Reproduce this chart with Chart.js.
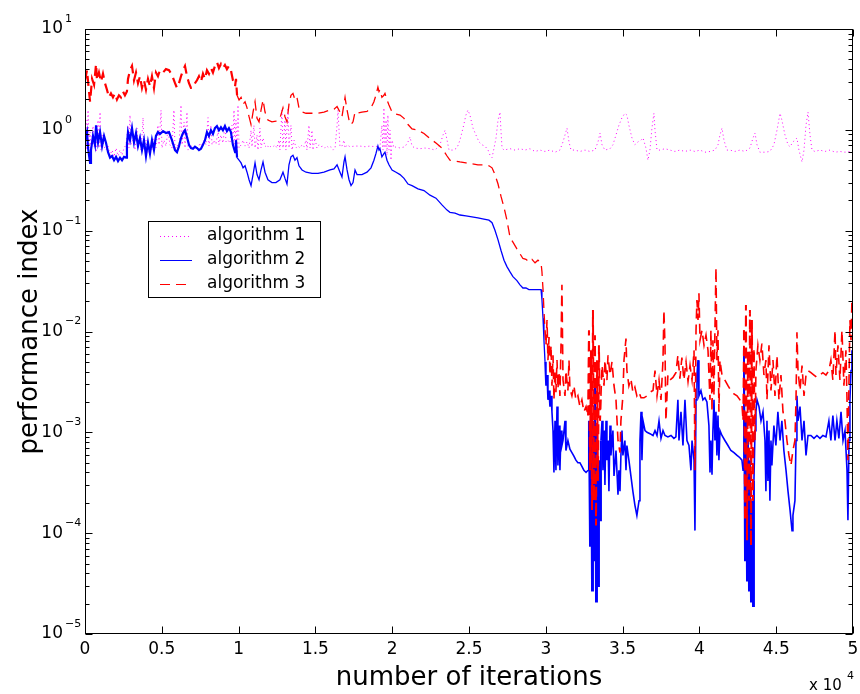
<!DOCTYPE html>
<html>
<head>
<meta charset="utf-8">
<script src="https://cdn.jsdelivr.net/npm/chart.js@4"></script>
<style>
  body { margin: 0; background: #fff; }
  #wrap { width: 860px; height: 694px; }
</style>
</head>
<body>
<div id="wrap"><canvas id="perfChart" width="860" height="694"></canvas></div>
<script>
// tick values / labels
const xTickValues = [0, 5000, 10000, 15000, 20000, 25000, 30000, 35000, 40000, 45000, 50000];
const xTickLabels = ['0', '0.5', '1', '1.5', '2', '2.5', '3', '3.5', '4', '4.5', '5'];
const yTickExponents = [-5, -4, -3, -2, -1, 0, 1];
const seriesNames = ['algorithm 1', 'algorithm 2', 'algorithm 3'];

// algorithm 1 (magenta, dotted)
const alg1Iter = [
  0,70,130,200,260,330,390,520,590,650,
  720,850,910,980,1040,1110,1240,1370,1500,1630,
  1760,1890,2020,2150,2280,2410,2540,2670,2800,2860,
  2930,2990,3120,3250,3390,3450,3580,3650,3780,3840,
  3970,4100,4230,4360,4490,4620,4750,4820,4950,5010,
  5140,5270,5400,5530,5660,5790,5860,5990,6120,6250,
  6320,6450,6510,6640,6710,6840,6970,7100,7230,7360,
  7490,7620,7750,7880,8010,8070,8200,8270,8400,8530,
  8660,8720,8850,8980,9110,9180,9310,9440,9570,9630,
  9700,9770,9830,9900,9960,10030,10160,10290,10420,10550,
  10680,10810,10870,11000,11070,11200,11260,11390,11460,11590,
  11720,11850,11980,12110,12240,12370,12500,12630,12690,12820,
  12890,13020,13080,13220,13280,13410,13480,13610,13740,13870,
  14000,14130,14260,14390,14450,14580,14650,14780,14840,14970,
  15100,15230,15360,15490,15620,15750,15880,16010,16150,16280,
  16410,16470,16540,16600,16730,16860,16930,17060,17250,17580,
  17900,18230,18550,18880,19070,19200,19330,19400,19460,19530,
  19600,19660,19720,19790,19860,19920,19990,20120,20250,20510,
  20830,21030,21160,21290,21480,21810,22130,22460,22790,23110,
  23310,23440,23570,23700,23960,24220,24410,24610,24800,24930,
  25060,25260,25450,25650,25850,26040,26240,26370,26500,26630,
  26760,26890,27020,27080,27150,27280,27670,27990,28320,28640,
  28970,29300,29620,29950,30270,30600,30920,31120,31250,31380,
  31510,31640,31900,32220,32550,32880,33200,33400,33530,33660,
  33850,34180,34370,34570,34760,34960,35150,35280,35410,35610,
  35800,36000,36200,36330,36520,36650,36780,36910,37040,37110,
  37240,37430,37760,38080,38410,38730,39060,39390,39710,40040,
  40360,40690,41010,41210,41340,41470,41600,41790,41990,42310,
  42640,42970,43290,43490,43620,43750,43940,44270,44590,44850,
  45050,45250,45370,45570,45770,45900,46090,46220,46350,46480,
  46680,46810,46940,47070,47200,47330,47520,47850,48170,48500,
  48830,49150,49480,49800,50000
];
const alg1Perf = [
  0.71,1.25,0.63,1.57,0.66,0.95,0.60,1.09,0.68,0.79,
  0.60,1.25,0.66,1.50,0.63,0.89,0.68,0.63,0.69,0.56,
  0.63,0.54,0.66,0.55,0.63,0.56,0.66,0.71,1.11,0.66,
  1.40,0.71,0.79,0.63,1.04,0.66,0.89,0.63,1.32,0.63,
  0.79,0.60,0.71,0.63,0.83,0.66,1.11,0.71,1.57,0.66,
  0.79,0.69,0.99,0.71,0.66,1.57,0.63,0.71,0.66,1.76,
  0.71,1.19,0.66,1.50,0.63,0.71,0.68,0.66,0.69,0.66,
  0.74,0.69,0.79,0.71,1.32,0.69,1.11,0.71,0.79,0.72,
  0.99,0.71,0.89,0.74,1.11,0.76,0.79,0.74,1.11,0.71,
  1.57,0.63,1.25,0.56,1.76,0.66,0.71,0.79,0.69,0.76,
  0.66,0.99,0.68,1.11,0.66,0.89,0.63,1.04,0.66,0.83,
  0.68,0.71,0.66,0.69,0.68,0.71,0.66,0.79,0.63,1.57,
  0.66,1.25,0.63,1.65,0.66,1.11,0.63,0.79,0.66,0.69,
  0.66,0.71,0.68,0.79,0.63,1.11,0.66,0.99,0.63,0.83,
  0.66,0.71,0.68,0.69,0.66,0.69,0.66,0.68,0.63,0.66,
  1.11,1.57,0.99,0.68,0.69,0.79,0.66,0.71,0.68,0.69,
  0.69,0.68,0.69,0.68,0.69,0.66,1.11,0.63,1.65,0.66,
  1.25,0.56,1.40,0.63,0.99,0.50,0.79,0.66,0.68,0.66,
  0.68,0.76,0.85,0.69,0.66,0.65,0.66,0.65,0.63,0.71,
  0.89,0.99,0.79,0.63,0.63,0.66,0.79,1.04,1.40,1.57,
  1.40,1.04,0.89,0.76,0.71,0.69,0.63,0.56,0.53,0.66,
  0.83,1.25,1.50,0.99,0.66,0.63,0.65,0.63,0.65,0.63,
  0.65,0.61,0.63,0.61,0.63,0.60,0.63,0.76,0.89,1.04,
  0.76,0.63,0.63,0.61,0.63,0.61,0.63,0.76,0.93,0.71,
  0.63,0.65,0.71,0.89,1.11,1.32,1.46,1.40,1.11,0.83,
  0.71,0.76,0.79,0.83,0.66,0.50,0.63,1.04,1.46,0.99,
  0.63,0.63,0.65,0.63,0.61,0.63,0.61,0.63,0.61,0.63,
  0.60,0.61,0.63,0.71,0.89,1.04,0.79,0.63,0.63,0.61,
  0.63,0.61,0.66,0.83,0.93,0.71,0.60,0.60,0.61,0.71,
  0.99,1.46,1.25,0.89,0.71,0.68,0.76,0.79,0.83,0.63,
  0.48,0.63,1.11,1.50,0.89,0.63,0.61,0.63,0.61,0.63,
  0.60,0.61,0.60,0.61,0.61
];

// algorithm 2 (blue, solid)
const alg2Iter = [
  0,130,200,330,390,520,650,720,850,980,
  1110,1240,1370,1500,1630,1760,1890,2020,2150,2280,
  2410,2540,2670,2730,2800,2930,3060,3190,3320,3450,
  3580,3710,3840,3970,4100,4230,4360,4490,4620,4750,
  4880,5080,5270,5470,5660,5860,5990,6120,6250,6380,
  6510,6640,6770,6900,7030,7160,7290,7420,7550,7680,
  7810,7940,8070,8200,8330,8460,8590,8720,8850,8980,
  9110,9240,9370,9500,9630,9770,9830,9900,10030,10160,
  10290,10420,10550,10680,10810,10940,11070,11200,11330,11460,
  11590,11720,11910,12170,12430,12690,12890,13020,13150,13280,
  13410,13540,13670,13800,13930,14130,14390,14780,15170,15560,
  15950,16210,16410,16600,16730,16860,16930,17060,17190,17320,
  17450,17580,17710,18030,18360,18620,18810,18940,19070,19140,
  19200,19330,19460,19530,19660,19790,19990,20250,20510,20770,
  21030,21290,21680,22070,22460,22850,23240,23570,23760,24090,
  24410,24800,25190,25580,25970,26300,26500,26690,26890,27080,
  27280,27470,27670,27860,28120,28320,28510,28710,28900,29100,
  29300,29490,29690,29750,29820,29880,29950,30010,30080,30140,
  30210,30270,30340,30400,30470,30530,30600,30660,30730,30790,
  30860,30920,30990,31050,31120,31250,31310,31440,31570,31700,
  31830,31960,32090,32220,32350,32480,32620,32750,32810,32880,
  32940,33010,33070,33140,33200,33270,33330,33400,33460,33530,
  33590,33660,33720,33790,33850,33920,33980,34050,34110,34180,
  34240,34370,34440,34570,34700,34760,34830,34890,34960,35020,
  35150,35220,35280,35410,35540,35670,35800,35930,36070,36130,
  36200,36260,36330,36460,36590,36780,36980,37110,37240,37370,
  37500,37630,37760,37950,38150,38340,38470,38600,38670,38800,
  38930,39060,39190,39320,39450,39520,39650,39710,39780,39840,
  39910,39970,40100,40230,40360,40490,40620,40690,40750,40820,
  40880,40950,41010,41080,41140,41210,41270,41340,41470,41660,
  41860,42050,42250,42450,42640,42770,42840,42900,42970,43030,
  43100,43160,43230,43290,43360,43420,43490,43550,43620,43680,
  43750,43880,44010,44140,44270,44330,44400,44460,44530,44590,
  44660,44720,44850,44980,45110,45250,45370,45500,45640,45770,
  45900,46030,46090,46220,46290,46350,46420,46550,46680,46810,
  46940,47070,47260,47460,47650,47850,48040,48240,48430,48560,
  48690,48830,48950,49080,49220,49350,49480,49610,49670,49740,
  49800,49870,49930,50000
];
const alg2Perf = [
  0.79,0.95,0.66,0.47,0.63,0.87,0.71,1.11,0.75,0.95,
  0.69,0.87,0.74,0.6,0.53,0.55,0.50,0.54,0.49,0.53,
  0.50,0.54,0.53,0.71,0.95,0.79,1.04,0.75,0.93,0.69,
  0.83,0.63,0.79,0.55,0.75,0.58,0.79,0.63,0.87,0.95,
  0.91,0.97,0.93,0.95,0.79,0.63,0.6,0.69,0.83,0.93,
  0.99,0.85,0.71,0.66,0.65,0.68,0.66,0.63,0.65,0.71,
  0.79,0.95,0.87,0.99,0.91,1.04,1.09,0.99,1.06,0.99,
  1.09,0.97,1.04,0.95,0.71,0.6,0.79,0.53,0.50,0.47,
  0.42,0.44,0.38,0.32,0.28,0.36,0.47,0.36,0.32,0.40,
  0.48,0.38,0.32,0.30,0.30,0.32,0.38,0.33,0.29,0.45,
  0.54,0.56,0.50,0.53,0.44,0.40,0.38,0.37,0.37,0.38,
  0.40,0.41,0.45,0.38,0.34,0.48,0.54,0.40,0.32,0.28,
  0.30,0.40,0.36,0.36,0.38,0.42,0.50,0.58,0.69,0.63,
  0.65,0.54,0.58,0.6,0.50,0.45,0.40,0.38,0.36,0.33,
  0.29,0.28,0.26,0.25,0.225,0.21,0.18,0.16,0.152,0.149,
  0.143,0.14,0.137,0.134,0.13,0.127,0.12,0.101,0.081,0.064,
  0.051,0.044,0.039,0.035,0.032,0.029,0.027,0.027,0.026,0.026,
  0.026,0.026,0.026,0.0205,0.0135,0.0082,0.005,0.0029,0.0037,0.0021,
  0.0026,0.0018,0.0023,0.0016,0.00104,0.0004,0.0013,0.00042,0.0018,0.00047,
  0.00117,0.00042,0.00104,0.00074,0.00083,0.0013,0.00066,0.00083,0.00068,0.00063,
  0.00058,0.00053,0.0005,0.0005,0.00046,0.00042,0.0004,0.00042,0.0013,0.000075,
  0.0021,0.000027,0.0013,0.000054,0.0033,0.000021,0.00104,0.00003,0.00053,0.000134,
  0.00083,0.0013,0.00042,0.00104,0.0003,0.0013,0.00053,0.00083,0.00026,0.00117,
  0.00059,0.00104,0.00037,0.00066,0.00024,0.00042,0.00026,0.00059,0.00104,0.00059,
  0.00083,0.00042,0.00074,0.00053,0.00037,0.00026,0.00019,0.00015,0.00021,0.00083,
  0.0016,0.00053,0.0013,0.00104,0.001,0.00097,0.00093,0.00104,0.00093,0.0013,
  0.00087,0.00104,0.00093,0.0009,0.00093,0.00087,0.0009,0.0021,0.00083,0.0016,
  0.00074,0.0021,0.00083,0.00074,0.00042,0.00083,0.00053,0.000106,0.0021,0.0037,
  0.0052,0.0023,0.0026,0.0021,0.0022,0.002,0.00117,0.0004,0.00083,0.00038,
  0.00104,0.0021,0.00083,0.0016,0.00059,0.00147,0.00053,0.00104,0.00093,0.00083,
  0.00074,0.00066,0.00063,0.00059,0.00056,0.00053,0.00042,0.0065,0.000054,0.0013,
  0.000034,0.00083,0.000027,0.00053,0.000021,0.00021,0.000019,0.00033,0.00104,0.0016,
  0.0021,0.0018,0.0013,0.0016,0.00083,0.00026,0.0013,0.00033,0.00104,0.00021,
  0.00083,0.00047,0.00117,0.00074,0.0016,0.00083,0.0013,0.00066,0.00042,0.00026,
  0.00017,0.000106,0.00015,0.00021,0.00083,0.0023,0.0013,0.0018,0.00083,0.0013,
  0.00059,0.00093,0.00093,0.00087,0.00093,0.00087,0.00093,0.0009,0.0013,0.00083,
  0.00147,0.00083,0.0013,0.00087,0.0016,0.00083,0.00104,0.00042,0.000134,0.00083,
  0.0021,0.0041,0.0065,0.0052
];

// algorithm 3 (red, dashed)
const alg3Iter = [
  0,130,260,330,460,590,720,780,910,1040,
  1170,1300,1430,1560,1690,1820,1950,2080,2210,2340,
  2470,2600,2730,2800,2930,3060,3190,3320,3450,3580,
  3710,3840,3970,4100,4230,4360,4490,4620,4750,4880,
  5080,5270,5470,5660,5860,5990,6120,6250,6380,6510,
  6640,6770,6900,7030,7160,7290,7420,7550,7680,7810,
  7940,8070,8200,8330,8460,8590,8720,8850,8980,9110,
  9240,9370,9500,9630,9770,9830,9900,10030,10160,10290,
  10420,10550,10680,10810,10940,11070,11200,11330,11460,11590,
  11720,11910,12170,12430,12690,12890,13020,13150,13280,13410,
  13540,13670,13800,13930,14130,14390,14780,15170,15560,15950,
  16210,16410,16600,16730,16860,16930,17060,17190,17320,17450,
  17580,17710,18030,18360,18620,18810,18940,19070,19140,19200,
  19330,19460,19530,19660,19790,19990,20250,20510,20770,21030,
  21290,21680,22070,22460,22850,23240,23570,23760,24090,24410,
  24800,25190,25580,25970,26300,26500,26690,26890,27080,27280,
  27470,27670,27860,28120,28320,28510,28710,28900,29100,29300,
  29490,29690,29750,29820,29880,29950,30010,30080,30140,30210,
  30270,30340,30400,30470,30530,30600,30660,30730,30790,30860,
  30920,30990,31050,31120,31250,31310,31440,31510,31570,31700,
  31830,31960,32090,32220,32350,32480,32620,32750,32810,32880,
  32940,33010,33070,33140,33200,33270,33330,33400,33460,33530,
  33590,33660,33790,33850,33980,34050,34180,34310,34440,34570,
  34700,34830,34890,35020,35090,35220,35280,35410,35540,35670,
  35800,35930,36070,36200,36390,36590,36780,36980,37110,37240,
  37370,37500,37630,37690,37760,37820,37950,38080,38280,38470,
  38600,38730,38860,38990,39130,39260,39390,39520,39650,39710,
  39780,39840,39910,39970,40040,40170,40300,40430,40560,40690,
  40750,40820,40880,40950,41010,41080,41140,41210,41270,41340,
  41470,41660,41860,42050,42250,42450,42640,42770,42840,42900,
  42970,43030,43100,43160,43230,43290,43360,43420,43490,43550,
  43620,43680,43810,43940,44070,44200,44330,44400,44530,44660,
  44790,44920,45050,45180,45310,45440,45570,45700,45830,45960,
  46090,46220,46290,46350,46420,46550,46680,46810,46940,47070,
  47260,47460,47650,47850,48040,48240,48430,48560,48690,48830,
  48890,49020,49150,49280,49410,49540,49610,49670,49740,49800,
  49870,49930,50000
];
const alg3Perf = [
  3.1,3.9,2.4,1.9,3.2,2.8,4.5,3.1,3.7,3.0,
  3.6,2.9,2.5,2.1,2.3,2.1,2.3,2.0,2.2,2.1,
  2.4,2.2,2.4,3.2,3.9,4.3,3.1,3.7,2.9,3.4,
  2.6,3.1,2.5,3.2,2.7,3.4,2.6,3.7,3.4,3.9,
  3.7,4.0,3.9,3.5,2.9,2.6,2.9,3.4,3.9,4.3,
  3.4,2.9,2.6,2.6,2.9,3.1,3.4,3.0,3.6,3.2,
  3.9,3.6,4.1,3.7,4.3,4.7,4.1,4.5,4.1,4.4,
  4.0,4.3,3.9,3.1,2.7,3.2,2.2,1.98,2.1,1.8,
  1.9,1.65,1.35,1.13,1.5,1.9,1.3,1.2,1.57,1.98,
  1.5,1.25,1.2,1.22,1.3,1.65,1.35,1.2,1.8,2.2,
  2.3,1.98,2.1,1.65,1.5,1.46,1.46,1.46,1.5,1.57,
  1.6,1.7,1.5,1.35,1.8,2.1,1.57,1.25,1.13,1.2,
  1.5,1.46,1.5,1.52,1.65,1.9,2.2,2.65,2.4,2.5,
  2.1,2.2,2.3,1.98,1.76,1.5,1.43,1.4,1.3,1.13,
  1.02,0.99,0.92,0.82,0.74,0.66,0.55,0.50,0.49,0.48,
  0.47,0.46,0.45,0.45,0.44,0.42,0.36,0.29,0.22,0.17,
  0.127,0.086,0.077,0.066,0.059,0.053,0.052,0.049,0.052,0.048,
  0.051,0.048,0.039,0.026,0.0163,0.0103,0.0073,0.013,0.0052,0.0088,
  0.0037,0.0073,0.0029,0.0058,0.0021,0.0041,0.0025,0.0052,0.0027,0.0039,
  0.0023,0.0073,0.029,0.0033,0.0023,0.0041,0.0026,0.0052,0.0027,0.0023,
  0.0029,0.0021,0.0023,0.0018,0.0021,0.0016,0.0018,0.00147,0.0103,0.00042,
  0.0065,0.00017,0.0163,0.00021,0.0092,0.000119,0.0052,0.00033,0.0073,0.0013,
  0.0023,0.0046,0.0029,0.0052,0.0033,0.0058,0.0037,0.005,0.0029,0.0021,
  0.00083,0.00063,0.0013,0.0023,0.0052,0.0085,0.0041,0.0029,0.0034,0.0025,
  0.0028,0.0023,0.0025,0.0022,0.0022,0.0023,0.0025,0.0026,0.0041,0.0023,
  0.0033,0.0021,0.0052,0.0163,0.0073,0.0013,0.0037,0.0033,0.0035,0.0039,
  0.0058,0.0034,0.0055,0.0033,0.005,0.0032,0.0046,0.0033,0.0065,0.00042,
  0.0103,0.0205,0.013,0.024,0.0082,0.0103,0.0073,0.0092,0.0065,0.0021,
  0.0103,0.0016,0.0082,0.0023,0.0103,0.043,0.0052,0.0103,0.0016,0.0052,
  0.0037,0.0033,0.0029,0.0026,0.0024,0.0023,0.0021,0.0019,0.0013,0.0103,
  0.000134,0.0183,0.000085,0.0065,0.00021,0.0163,0.000075,0.013,0.00021,0.0065,
  0.00083,0.0041,0.0073,0.0052,0.0076,0.0037,0.0052,0.0021,0.0073,0.0026,
  0.0052,0.0023,0.0058,0.0021,0.0037,0.0016,0.0013,0.00083,0.00059,0.00047,
  0.00066,0.00083,0.0021,0.0098,0.0041,0.0026,0.0046,0.0023,0.0037,0.0041,
  0.0039,0.0037,0.0035,0.0037,0.0039,0.0037,0.0041,0.0052,0.0033,0.0103,
  0.0037,0.0073,0.0033,0.0103,0.0029,0.0065,0.0021,0.00053,0.0033,0.013,
  0.0082,0.0205,0.0163
];

const FONT = '"DejaVu Sans", "Liberation Sans", Arial, sans-serif';
const dashes = { alg1: [1, 3], alg2: [], alg3: [10, 6] };

function toPoints(iters, vals) {
  return iters.map((it, i) => ({ x: it, y: vals[i] }));
}

// the raw traces are very jittery in the first 10k iterations and after 30k;
// draw those stretches a bit heavier
function noisyWidth(c) {
  const x = c.p1.parsed.x;
  if (x <= 10000) return 2.2;
  if ((x > 32800 && x < 33600) || (x > 42900 && x < 43600)) return 2;
  if (x > 30000) return 1.6;
  return undefined;
}

// frame, inward ticks, tick labels, legend (MATLAB look)
const matlabAxes = {
  id: 'matlabAxes',
  afterDraw(chart) {
    const { ctx, chartArea: a } = chart;
    const xs = chart.scales.x;
    const ys = chart.scales.y;
    const L = Math.round(a.left) + 0.5, R = Math.round(a.right) - 0.5;
    const T = Math.round(a.top) + 0.5, B = Math.round(a.bottom) - 0.5;

    ctx.save();
    ctx.strokeStyle = '#000';
    ctx.lineWidth = 1;
    ctx.setLineDash([]);
    ctx.strokeRect(L, T, R - L, B - T);

    ctx.beginPath();
    xTickValues.forEach(v => {
      const px = Math.round(xs.getPixelForValue(v)) + 0.5;
      ctx.moveTo(px, B); ctx.lineTo(px, B - 7);
      ctx.moveTo(px, T); ctx.lineTo(px, T + 7);
    });
    yTickExponents.forEach(e => {
      const py = Math.round(ys.getPixelForValue(Math.pow(10, e))) + 0.5;
      ctx.moveTo(L, py); ctx.lineTo(L + 7, py);
      ctx.moveTo(R, py); ctx.lineTo(R - 7, py);
      if (e < 1) {
        for (let k = 2; k <= 9; k++) {
          const pm = Math.round(ys.getPixelForValue(k * Math.pow(10, e))) + 0.5;
          ctx.moveTo(L, pm); ctx.lineTo(L + 4, pm);
          ctx.moveTo(R, pm); ctx.lineTo(R - 4, pm);
        }
      }
    });
    ctx.stroke();

    ctx.fillStyle = '#000';
    ctx.font = '17px ' + FONT;
    ctx.textAlign = 'center';
    ctx.textBaseline = 'middle';
    xTickValues.forEach((v, i) => {
      ctx.fillText(xTickLabels[i], xs.getPixelForValue(v), a.bottom + 16);
    });

    yTickExponents.forEach(e => {
      const py = ys.getPixelForValue(Math.pow(10, e));
      ctx.font = '17px ' + FONT;
      ctx.textAlign = 'right';
      ctx.fillText('10', 63, py);
      ctx.font = '11px ' + FONT;
      ctx.textAlign = 'left';
      ctx.fillText(e < 0 ? '\u2212' + (-e) : String(e), 65, py - 10);
    });

    // x 10^4 multiplier
    ctx.font = '15px ' + FONT;
    ctx.textAlign = 'left';
    ctx.fillText('x 10', 809, 686);
    ctx.font = '11px ' + FONT;
    ctx.fillText('4', 847, 676);

    // legend
    ctx.fillStyle = '#fff';
    ctx.fillRect(148.5, 221.5, 172, 76);
    ctx.strokeRect(148.5, 221.5, 172, 76);
    const colors = ['#ff00ff', '#0000ff', '#ff0000'];
    const dashList = [dashes.alg1, dashes.alg2, dashes.alg3];
    seriesNames.forEach((name, i) => {
      const ly = 236 + i * 24;
      ctx.strokeStyle = colors[i];
      ctx.setLineDash(dashList[i]);
      ctx.beginPath();
      ctx.moveTo(160, ly + 0.5); ctx.lineTo(192, ly + 0.5);
      ctx.stroke();
      ctx.setLineDash([]);
      ctx.fillStyle = '#000';
      ctx.font = '17px ' + FONT;
      ctx.textAlign = 'left';
      ctx.fillText(name, 207, ly);
    });
    ctx.restore();
  }
};

const ctx = document.getElementById('perfChart').getContext('2d');
const perfChart = new Chart(ctx, {
  type: 'line',
  data: {
    datasets: [
      {
        label: seriesNames[2],
        data: toPoints(alg3Iter, alg3Perf),
        borderColor: '#ff0000',
        borderWidth: 1.3,
        borderDash: dashes.alg3,
        segment: { borderWidth: noisyWidth },
        order: 0
      },
      {
        label: seriesNames[1],
        data: toPoints(alg2Iter, alg2Perf),
        borderColor: '#0000ff',
        borderWidth: 1.3,
        segment: { borderWidth: noisyWidth },
        order: 1
      },
      {
        label: seriesNames[0],
        data: toPoints(alg1Iter, alg1Perf),
        borderColor: '#ff00ff',
        borderWidth: 1,
        borderDash: dashes.alg1,
        order: 2
      }
    ]
  },
  options: {
    responsive: false,
    animation: false,
    events: [],
    elements: {
      point: { radius: 0 },
      line: { tension: 0, fill: false }
    },
    layout: { padding: { top: 29, right: 7, bottom: 0, left: 0 } },
    plugins: {
      legend: { display: false },
      tooltip: { enabled: false }
    },
    scales: {
      x: {
        type: 'linear',
        min: 0,
        max: 50000,
        grid: { display: false },
        border: { display: false },
        ticks: { display: false },
        title: {
          display: true,
          text: 'number of iterations',
          color: '#000',
          font: { family: FONT, size: 26 },
          padding: { top: 0, bottom: 0 }
        },
        afterFit(scale) { scale.height = 60; }
      },
      y: {
        type: 'logarithmic',
        min: 1e-5,
        max: 10,
        grid: { display: false },
        border: { display: false },
        ticks: { display: false },
        title: {
          display: true,
          text: 'performance index',
          color: '#000',
          font: { family: FONT, size: 26 },
          padding: { top: 15, bottom: 0 }
        },
        afterFit(scale) { scale.width = 85; }
      }
    }
  },
  plugins: [matlabAxes]
});
</script>
</body>
</html>
